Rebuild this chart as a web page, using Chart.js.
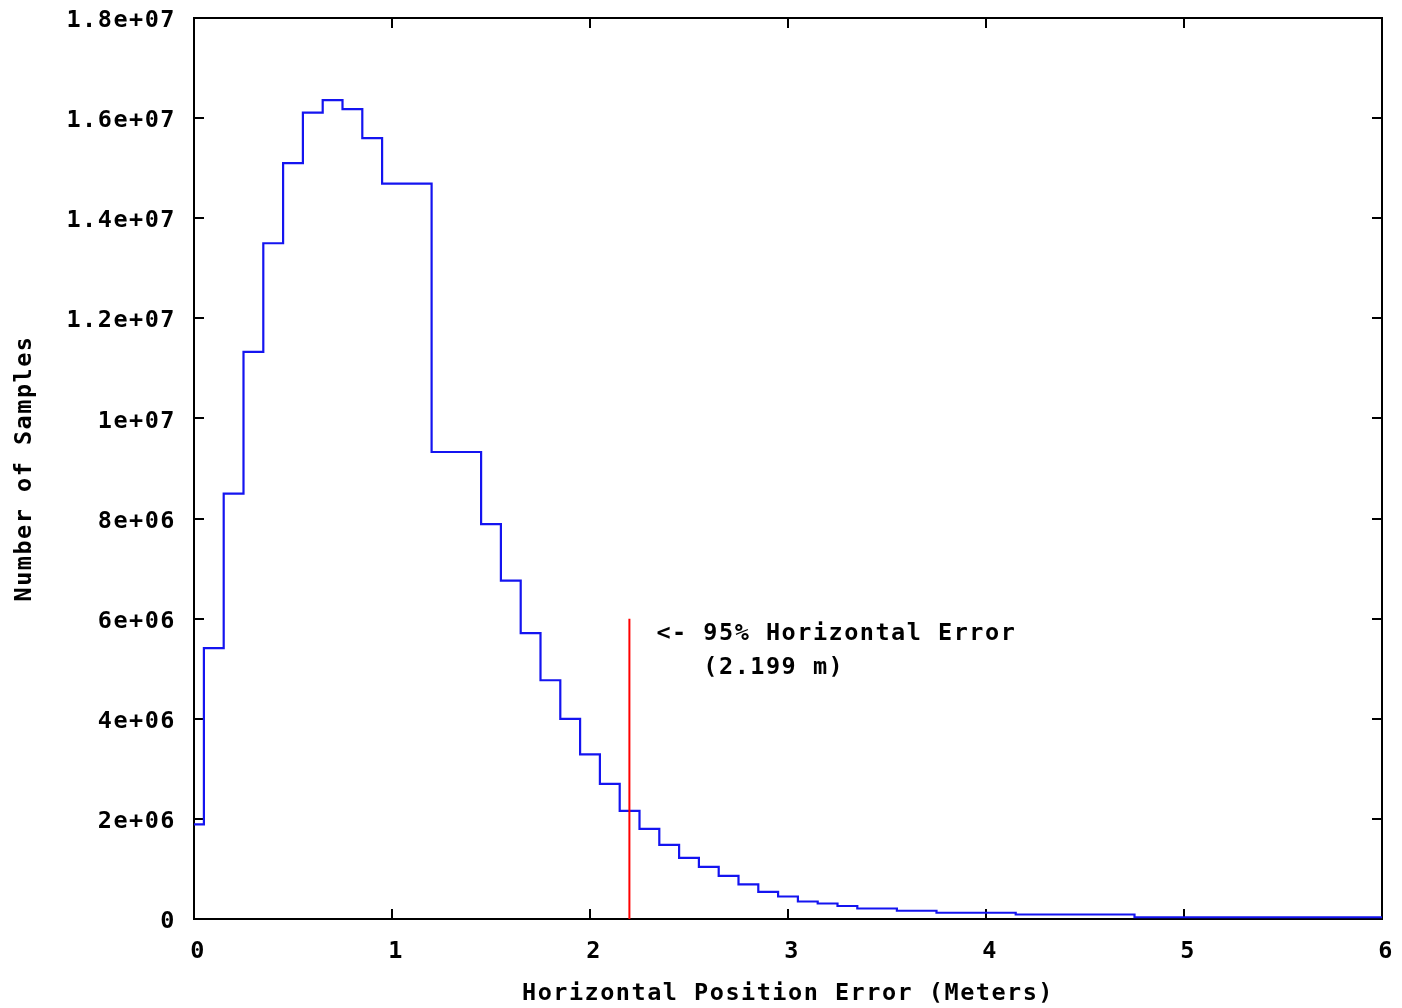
<!DOCTYPE html>
<html>
<head>
<meta charset="utf-8">
<script src="https://cdn.jsdelivr.net/npm/chart.js@4.4.0/dist/chart.umd.min.js"></script>
<style>html,body{margin:0;padding:0;background:#fff;}canvas{display:block;}</style>
</head>
<body>
<canvas id="c" width="1402" height="1008"></canvas>
<script>
// ---- data (histogram sample points, drawn as histeps) ----
const errorMeters = [0, 0.1, 0.2, 0.3, 0.4, 0.5, 0.6, 0.7, 0.8, 0.9, 1.0,
  1.4, 1.5, 1.6, 1.7, 1.8, 1.9, 2.0, 2.1, 2.2, 2.3, 2.4, 2.5, 2.6, 2.7, 2.8, 2.9,
  3.0, 3.1, 3.2, 3.3, 3.4, 3.7, 3.8, 4.5, 5.0, 6.0];
const sampleCounts = [1.89e6, 5.41e6, 8.5e6, 11.33e6, 13.5e6, 15.1e6, 16.11e6, 16.36e6, 16.18e6, 15.6e6, 14.69e6,
  9.33e6, 7.89e6, 6.76e6, 5.71e6, 4.77e6, 4.0e6, 3.29e6, 2.7e6, 2.16e6, 1.8e6, 1.48e6, 1.22e6, 1.04e6, 0.86e6, 0.69e6, 0.54e6,
  0.45e6, 0.35e6, 0.31e6, 0.26e6, 0.21e6, 0.165e6, 0.125e6, 0.09e6, 0.035e6, 0.035e6];

const percentile95 = 2.199;
const markerTop = 6e6;

const xTickValues = [0, 1, 2, 3, 4, 5, 6];
const xTickLabels = ['0', '1', '2', '3', '4', '5', '6'];
const yTickValues = [0, 2e6, 4e6, 6e6, 8e6, 1e7, 1.2e7, 1.4e7, 1.6e7, 1.8e7];
const yTickLabels = ['0', '2e+06', '4e+06', '6e+06', '8e+06', '1e+07', '1.2e+07', '1.4e+07', '1.6e+07', '1.8e+07'];

const xTitle = 'Horizontal Position Error (Meters)';
const yTitle = 'Number of Samples';
const annotationLines = ['<- 95% Horizontal Error', '   (2.199 m)'];

// ---- styling ----
const FONT = { family: '"DejaVu Sans Mono", "Liberation Mono", monospace', size: 23.5, weight: 'bold', lineHeight: 1 };
const LS = '1.5px';

const spacingPlugin = {
  id: 'spacing',
  beforeUpdate(chart) { chart.ctx.letterSpacing = LS; },
  beforeLayout(chart) { chart.ctx.letterSpacing = LS; },
  beforeDraw(chart) { chart.ctx.letterSpacing = LS; }
};

const framePlugin = {
  id: 'frame',
  beforeDatasetsDraw(chart) {
    const { ctx, chartArea: a, scales: { x, y } } = chart;
    ctx.save();
    ctx.strokeStyle = '#000';
    ctx.lineWidth = 2;
    ctx.strokeRect(a.left, a.top, a.right - a.left, a.bottom - a.top);
    ctx.beginPath();
    const TL = 10;
    yTickValues.forEach(v => {
      const py = Math.round(y.getPixelForValue(v));
      ctx.moveTo(a.left, py); ctx.lineTo(a.left + TL, py);
      ctx.moveTo(a.right, py); ctx.lineTo(a.right - TL, py);
    });
    xTickValues.forEach(v => {
      const px = Math.round(x.getPixelForValue(v));
      ctx.moveTo(px, a.bottom); ctx.lineTo(px, a.bottom - TL);
      ctx.moveTo(px, a.top); ctx.lineTo(px, a.top + TL);
    });
    ctx.stroke();
    ctx.restore();
  },
  afterDraw(chart) {
    const { ctx, scales: { x, y } } = chart;
    ctx.save();
    ctx.letterSpacing = LS;
    ctx.font = `${FONT.weight} ${FONT.size}px ${FONT.family}`;
    ctx.fillStyle = '#000';
    ctx.textAlign = 'left';
    ctx.textBaseline = 'middle';
    const tx = x.getPixelForValue(percentile95) + 27;
    const ty = y.getPixelForValue(markerTop) + 15;
    annotationLines.forEach((line, i) => ctx.fillText(line, tx, ty + i * 34));
    ctx.restore();
  }
};

new Chart(document.getElementById('c'), {
  type: 'line',
  data: {
    datasets: [
      {
        label: '95% marker',
        data: [{ x: percentile95, y: 0 }, { x: percentile95, y: markerTop }],
        borderColor: '#ff0000',
        borderWidth: 2,
        pointRadius: 0,
        order: 0
      },
      {
        label: 'Horizontal error',
        data: errorMeters.map((v, i) => ({ x: v, y: sampleCounts[i] })),
        borderColor: '#1414f0',
        borderWidth: 2.2,
        pointRadius: 0,
        stepped: 'middle',
        fill: false,
        order: 1
      }
    ]
  },
  options: {
    responsive: false,
    animation: false,
    devicePixelRatio: 1,
    layout: { padding: { top: 18, right: 20, left: 0, bottom: 0 } },
    plugins: { legend: { display: false }, tooltip: { enabled: false } },
    scales: {
      x: {
        type: 'linear', min: 0, max: 6,
        grid: { display: false, drawTicks: false },
        border: { display: false },
        afterBuildTicks(scale) { scale.ticks = xTickValues.map(v => ({ value: v })); },
        afterFit(scale) { scale.height = 89; scale.paddingLeft = 0; scale.paddingRight = 0; },
        ticks: {
          font: FONT, color: '#000', padding: 21, labelOffset: 4,
          maxRotation: 0, autoSkip: false,
          callback: v => xTickLabels[xTickValues.indexOf(v)]
        },
        title: { display: true, text: xTitle, font: FONT, color: '#000', padding: { top: 0, bottom: 2 } }
      },
      y: {
        type: 'linear', min: 0, max: 1.8e7,
        grid: { display: false, drawTicks: false },
        border: { display: false },
        afterBuildTicks(scale) { scale.ticks = yTickValues.map(v => ({ value: v })); },
        afterFit(scale) { scale.width = 194; scale.paddingTop = 0; scale.paddingBottom = 0; },
        ticks: {
          font: FONT, color: '#000', padding: 18, labelOffset: 3, autoSkip: false,
          callback: v => yTickLabels[yTickValues.indexOf(v)]
        },
        title: { display: true, text: yTitle, font: FONT, color: '#000', padding: { top: 13, bottom: 0 } }
      }
    }
  },
  plugins: [spacingPlugin, framePlugin]
});
</script>
</body>
</html>
